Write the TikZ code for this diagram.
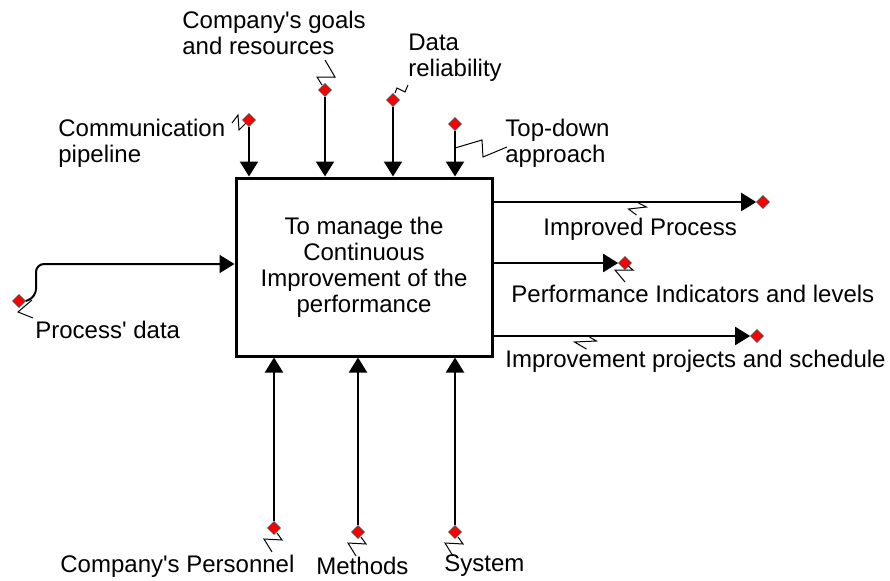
\documentclass[tikz,border=0pt]{standalone}
\usepackage{fontspec}
\setmainfont{Liberation Sans}
\usetikzlibrary{shapes.geometric,arrows.meta}
\begin{document}
\begin{tikzpicture}[x=0.5pt,y=-0.5pt,
	reddot/.style={diamond, draw=black!70, fill=red, inner sep=0pt, minimum size=6.5pt, line width=0.3pt},
	flow/.style={line width=1pt, -{Triangle[length=7.5pt,width=9pt]}},
	zig/.style={line width=0.5pt},
	lbl/.style={anchor=west, inner sep=0pt, align=left, font=\fontsize{12}{13}\selectfont}]
	\useasboundingbox (0,0) rectangle (890,580);

	\node[draw, line width=1.5pt, minimum width=128pt, minimum height=89pt, align=center, font=\fontsize{12}{13}\selectfont] (box) at (364,267) {To manage the\\Continuous\\Improvement of the\\performance};

	\node[reddot] (c1) at (249,120) {};
	\node[reddot] (c2) at (325,90) {};
	\node[reddot] (c3) at (393,100) {};
	\node[reddot] (c4) at (455,124) {};
	\node[reddot] (i1) at (19,301) {};
	\node[reddot] (o1) at (763,202) {};
	\node[reddot] (o2) at (625,263) {};
	\node[reddot] (o3) at (757,336) {};
	\node[reddot] (m1) at (274,528) {};
	\node[reddot] (m2) at (358,532) {};
	\node[reddot] (m3) at (455,532) {};

	\node[lbl] (l1) at (58,143) {Communication\\pipeline};
	\node[lbl] (l2) at (182,33) {Company\textquotesingle s goals\\and resources};
	\node[lbl] (l3) at (408,58) {Data\\reliability};
	\node[lbl] (l4) at (505,143) {Top-down\\approach};
	\node[lbl] (l5) at (35,330) {Process\textquotesingle{} data};
	\node[lbl] (l6) at (543,229) {Improved Process};
	\node[lbl] (l7) at (511,294) {Performance Indicators and levels};
	\node[lbl] (l8) at (505,361) {Improvement projects and schedule};
	\node[lbl] (l9) at (60,566) {Company\textquotesingle s Personnel};
	\node[lbl] (l10) at (316,566) {Methods};
	\node[lbl] (l11) at (444,566) {System};

	\foreach \c in {c1,c2,c3,c4}
		\draw[flow] (\c.south) -- (\c |- box.north);
	\foreach \o in {o1,o2,o3}
		\draw[flow] (box.east |- \o) -- (\o.west);
	\foreach \m in {m1,m2,m3} {
		\draw[flow] (\m.north) -- (\m |- box.south);
		\draw[zig] (\m) ++(3,5) -- ++(5,7) -- ++(-18,-1) -- ++(8,13);
	}
	\coordinate (k1) at (36,264);
	\draw[flow, rounded corners=4] (i1.east) -- (36,297) -- (k1) -- (k1 -| box.west);

	\draw[zig] (c1) -- ++(-10,10) -- ++(-1,-15) -- ++(-6,8);
	\draw[zig] (c2) ++(-3,-5) -- ++(-5,-8) -- ++(18,0) -- ++(-10,-17);
	\draw[zig] (c3) ++(2,-7) -- ++(2,-5) -- ++(8,4) -- ++(3,-7);
	\draw[zig] (c4) ++(0,24) -- ++(27,-8) -- ++(1,17) -- ++(24,-10);
	\draw[zig] (i1) ++(13,-1) -- ++(-14,12) -- ++(15,6);
	\draw[zig] (box.east |- o1) ++(145,1) -- ++(8,4) -- ++(-18,2) -- ++(8,6);
	\draw[zig] (o2) ++(2,2) -- ++(6,5) -- ++(-18,0) -- ++(10,12);
	\draw[zig] (box.east |- o3) ++(96,1) -- ++(7,4) -- ++(-22,1) -- ++(12,7);
\end{tikzpicture}
\end{document}
